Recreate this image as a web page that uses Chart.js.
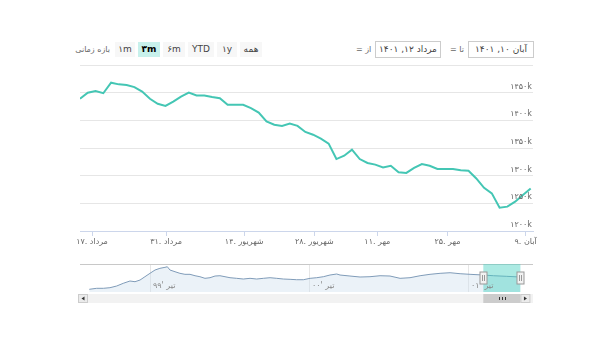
<!DOCTYPE html>
<html>
<head>
<meta charset="utf-8">
<script src="https://cdn.jsdelivr.net/npm/chart.js@4.4.0/dist/chart.umd.min.js"></script>
<style>
body { margin:0; background:#fff; width:600px; height:357px; position:relative; overflow:hidden; font-family:"DejaVu Sans", sans-serif; }
.btn { position:absolute; top:42px; height:15px; line-height:15px; background:#f7f7f7; color:#444; font-size:9px; text-align:center; }
.btn.sel { background:#c8f1ec; font-weight:bold; color:#000; }
.box { position:absolute; top:41px; height:15px; line-height:15px; border:1px solid #ccc; font-size:9px; color:#444; text-align:center; direction:rtl; }
.lbl { position:absolute; top:42px; line-height:15px; font-size:8px; color:#666; }
#mainWrap { position:absolute; left:0; top:55px; width:600px; height:200px; }
#navWrap { position:absolute; left:0; top:255px; width:600px; height:50px; }
</style>
</head>
<body>

<div class="lbl" style="left:50px;width:60px;text-align:right">بازه زمانی</div>
<div class="btn" style="left:115px;width:20px">۱m</div>
<div class="btn sel" style="left:138px;width:22px">۳m</div>
<div class="btn" style="left:163px;width:22px">۶m</div>
<div class="btn" style="left:188px;width:26px">YTD</div>
<div class="btn" style="left:217px;width:20px">۱y</div>
<div class="btn" style="left:240px;width:22px">همه</div>

<div class="lbl" style="left:356px">= از</div>
<div class="box" style="left:375px;width:64px">مرداد ۱۲, ۱۴۰۱</div>
<div class="lbl" style="left:450px">= تا</div>
<div class="box" style="left:468px;width:64px">آبان ۱۰, ۱۴۰۱</div>

<div id="mainWrap"><canvas id="mainChart" width="600" height="200"></canvas></div>
<div id="navWrap"><canvas id="navChart" width="600" height="50"></canvas></div>

<script>
// شاخص روزانه (هزار واحد)
var mainValues = [1439, 1450, 1453, 1449, 1468, 1465, 1464, 1460, 1452, 1439,
    1430, 1426, 1434, 1443, 1450, 1445, 1445, 1442, 1440, 1428,
    1428, 1428, 1422, 1414, 1398, 1392, 1390, 1394, 1390, 1379,
    1374, 1367, 1358, 1330, 1336, 1347, 1330, 1323, 1320, 1315,
    1318, 1306, 1305, 1314, 1321, 1318, 1312, 1312, 1312, 1310,
    1309, 1295, 1278, 1268, 1242, 1244, 1253, 1265, 1277];

var xTickPositions = [1.55, 11.08, 21.13, 30.15, 38.27, 47.29, 57.35];
var xTickLabels = ['۱۷. مرداد', '۳۱. مرداد', '۱۴. شهریور', '۲۸. شهریور', '۱۱. مهر', '۲۵. مهر', '۹. آبان'];
var yLabelValues = [1200, 1250, 1300, 1350, 1400, 1450];

// ناوبر: ماه نسبت به تیر ۹۹
var navMonths = [-4.58, -4.02, -3.52, -3.02, -2.51, -2.02, -1.51, -1.13, -0.75, -0.38,
    0, 0.38, 0.75, 1.13, 1.31, 1.51, 1.89, 2.26, 2.64, 3.02,
    3.40, 3.77, 4.15, 4.53, 4.91, 5.28, 5.66, 6.04, 6.54, 7.04,
    7.55, 8.05, 8.55, 9.06, 9.56, 10.06, 10.57, 11.07, 11.57, 12.08,
    12.58, 13.08, 13.58, 14.09, 14.34, 15.09, 15.85, 16.60, 17.36, 18.11,
    18.87, 19.62, 20.38, 21.13, 21.89, 22.64, 23.40, 24.15, 25.15, 25.91,
    26.92, 27.92];
var navValues = [337, 414, 414, 460, 590, 797, 974, 920, 1050, 1304,
    1564, 1817, 1948, 2024, 2070, 1817, 1687, 1564, 1488, 1488,
    1380, 1304, 1181, 1227, 1357, 1380, 1304, 1227, 1181, 1127,
    1181, 1127, 1181, 1227, 1181, 1127, 1104, 1073, 1073, 1181,
    1227, 1304, 1434, 1511, 1434, 1357, 1281, 1304, 1380, 1357,
    1181, 1227, 1380, 1488, 1564, 1610, 1534, 1488, 1434, 1380,
    1334, 1281];
var navGridMonths = [0, 12, 24];
var navGridLabels = ['تیر \'۹۹', 'تیر \'۰۰', 'تیر \'۰۱'];
var selStart = 25.15;
var selEnd = 27.95;

function faDigits(n) {
    return String(n).replace(/[0-9]/g, function (d) { return '۰۱۲۳۴۵۶۷۸۹'[d]; });
}

var yLabelsPlugin = {
    id: 'yLabels',
    afterDraw: function (chart) {
        var ctx = chart.ctx;
        var y = chart.scales.y;
        ctx.save();
        ctx.font = '8px "DejaVu Sans"';
        ctx.fillStyle = '#666';
        ctx.textAlign = 'right';
        ctx.textBaseline = 'bottom';
        yLabelValues.forEach(function (v) {
            ctx.fillText(faDigits(v) + 'k', chart.chartArea.right - 1, y.getPixelForValue(v) - 2);
        });
        ctx.restore();
    }
};

new Chart(document.getElementById('mainChart'), {
    type: 'line',
    data: {
        datasets: [{
            data: mainValues.map(function (v, i) { return { x: i, y: v }; }),
            borderColor: '#44c6b4',
            borderWidth: 2,
            pointRadius: 0,
            tension: 0,
            fill: false
        }]
    },
    options: {
        responsive: false,
        animation: false,
        layout: { padding: { left: 80, right: 67, top: 10, bottom: 0 } },
        plugins: { legend: { display: false }, tooltip: { enabled: false } },
        scales: {
            x: {
                type: 'linear',
                min: 0,
                max: 58.3,
                afterBuildTicks: function (scale) {
                    scale.ticks = xTickPositions.map(function (v) { return { value: v }; });
                },
                afterFit: function (scale) { scale.height = 24; },
                grid: { drawOnChartArea: false, drawTicks: true, tickLength: 5, color: '#ccd6eb' },
                border: { color: '#ccd6eb' },
                ticks: {
                    autoSkip: false,
                    maxRotation: 0,
                    padding: 1,
                    color: '#666',
                    font: { family: 'DejaVu Sans', size: 8 },
                    callback: function (value, index) { return xTickLabels[index]; }
                }
            },
            y: {
                min: 1200,
                max: 1500,
                afterFit: function (scale) { scale.width = 0; },
                ticks: { display: false, stepSize: 50 },
                grid: { color: '#e6e6e6', drawTicks: false },
                border: { display: false }
            }
        }
    },
    plugins: [yLabelsPlugin]
});

var navPlugin = {
    id: 'navDecor',
    beforeDatasetsDraw: function (chart) {
        var ctx = chart.ctx, a = chart.chartArea, x = chart.scales.x;
        ctx.save();
        ctx.strokeStyle = '#e6e6e6';
        ctx.lineWidth = 1;
        navGridMonths.forEach(function (m) {
            var px = Math.round(x.getPixelForValue(m)) + 0.5;
            ctx.beginPath(); ctx.moveTo(px, a.top); ctx.lineTo(px, a.bottom); ctx.stroke();
        });
        ctx.strokeStyle = '#c8c8c8';
        ctx.beginPath(); ctx.moveTo(a.left, a.top + 0.5); ctx.lineTo(a.right, a.top + 0.5); ctx.stroke();
        ctx.restore();
    },
    afterDatasetsDraw: function (chart) {
        var ctx = chart.ctx, a = chart.chartArea, x = chart.scales.x;
        var x1 = x.getPixelForValue(selStart), x2 = x.getPixelForValue(selEnd);
        ctx.save();
        ctx.fillStyle = 'rgba(70,208,192,0.45)';
        ctx.fillRect(x1, a.top, x2 - x1, a.bottom - a.top);

        // برچسب‌های محور
        ctx.font = '8px "DejaVu Sans"';
        ctx.fillStyle = '#888';
        ctx.textAlign = 'left';
        ctx.textBaseline = 'bottom';
        navGridMonths.forEach(function (m, i) {
            ctx.fillText(navGridLabels[i], x.getPixelForValue(m) + 3, a.bottom - 2);
        });

        // دستگیره‌ها
        var hy = (a.top + a.bottom) / 2;
        [x1, x2].forEach(function (hx) {
            hx = Math.round(hx) + 0.5;
            ctx.fillStyle = '#f2f2f2';
            ctx.strokeStyle = '#999';
            ctx.fillRect(hx - 3.5, hy - 6, 7, 12);
            ctx.strokeRect(hx - 3.5, hy - 6, 7, 12);
            ctx.beginPath();
            ctx.moveTo(hx - 1, hy - 3); ctx.lineTo(hx - 1, hy + 3);
            ctx.moveTo(hx + 1, hy - 3); ctx.lineTo(hx + 1, hy + 3);
            ctx.stroke();
        });

        // نوار اسکرول
        var sy = a.bottom + 2, sh = 9;
        ctx.fillStyle = '#f2f2f2';
        ctx.fillRect(a.left, sy, a.right - a.left, sh);
        ctx.fillStyle = '#cccccc';
        ctx.fillRect(x1, sy, x2 - x1, sh);
        ctx.strokeStyle = '#333';
        var mx = Math.round((x1 + x2) / 2) + 0.5;
        ctx.beginPath();
        [-3, 0, 3].forEach(function (d) { ctx.moveTo(mx + d, sy + 3); ctx.lineTo(mx + d, sy + sh - 3); });
        ctx.stroke();
        [[a.left - 2, 1], [x2, -1]].forEach(function (b) {
            ctx.fillStyle = '#ebebeb';
            ctx.strokeStyle = '#cccccc';
            ctx.fillRect(b[0] + 0.5, sy + 0.5, 9, sh - 1);
            ctx.strokeRect(b[0] + 0.5, sy + 0.5, 9, sh - 1);
            var cx = b[0] + 5, cy = sy + sh / 2;
            ctx.fillStyle = '#333';
            ctx.beginPath();
            ctx.moveTo(cx + b[1] * 1.5, cy - 2);
            ctx.lineTo(cx - b[1] * 1.5, cy);
            ctx.lineTo(cx + b[1] * 1.5, cy + 2);
            ctx.fill();
        });
        ctx.restore();
    }
};

new Chart(document.getElementById('navChart'), {
    type: 'line',
    data: {
        datasets: [{
            data: navMonths.map(function (m, i) { return { x: m, y: navValues[i] }; }),
            borderColor: '#7f9bb8',
            borderWidth: 1,
            pointRadius: 0,
            tension: 0,
            fill: 'start',
            backgroundColor: 'rgba(205,222,238,0.4)'
        }]
    },
    options: {
        responsive: false,
        animation: false,
        layout: { padding: { left: 80, right: 67, top: 9, bottom: 13 } },
        plugins: { legend: { display: false }, tooltip: { enabled: false } },
        scales: {
            x: { type: 'linear', min: -5.28, max: 28.9, display: false },
            y: { min: 130, max: 2280, display: false }
        }
    },
    plugins: [navPlugin]
});
</script>
</body>
</html>
